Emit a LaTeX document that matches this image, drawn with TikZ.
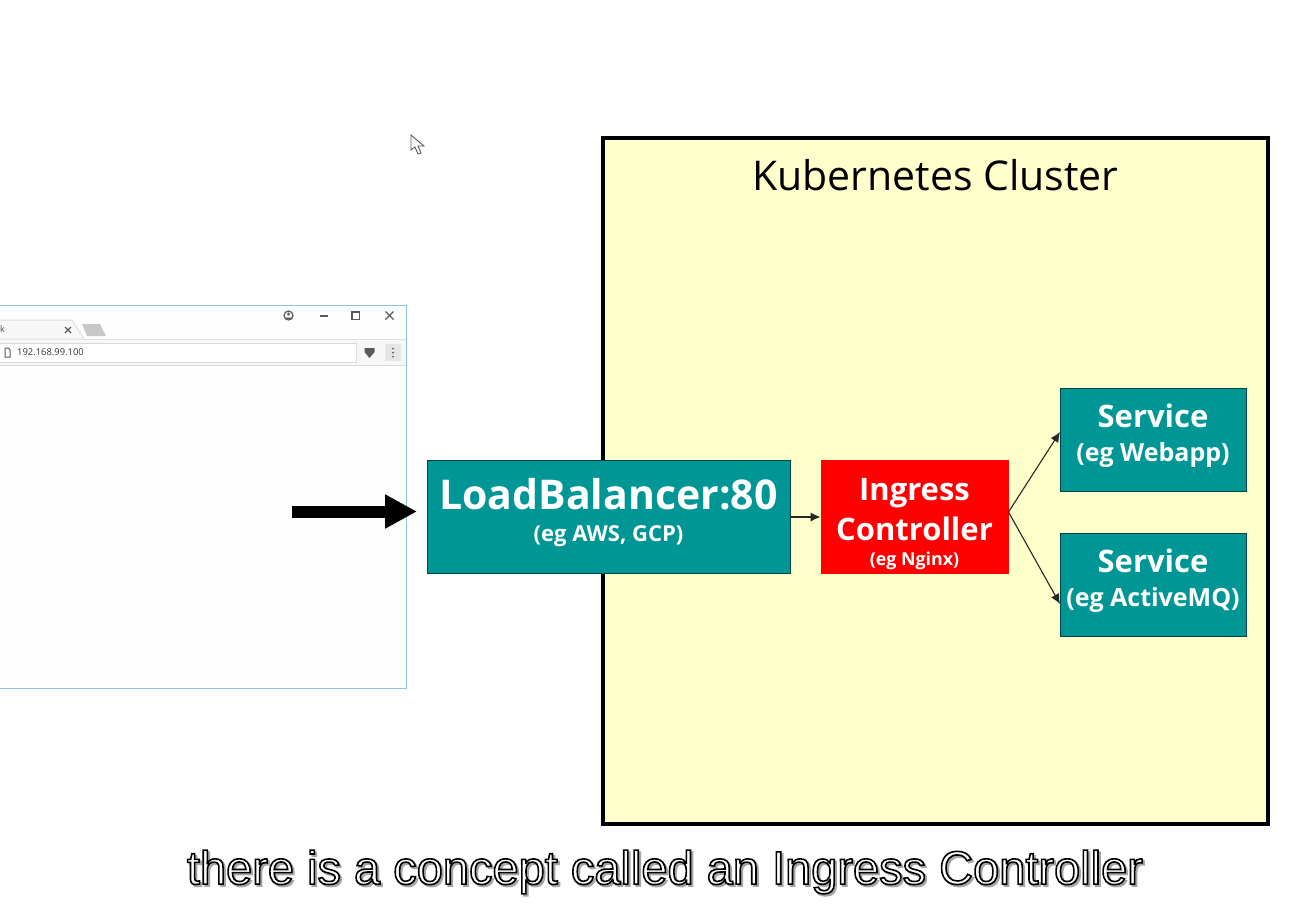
\documentclass[tikz,border=0pt]{standalone}
\usepackage{fontspec}
\setmainfont{Open Sans}
\newfontfamily\captionfont{Liberation Sans}
\usetikzlibrary{arrows.meta}

\definecolor{tealbox}{RGB}{0,150,150}
\definecolor{clusterbg}{RGB}{255,255,204}
\definecolor{windowline}{RGB}{135,195,230}
\definecolor{chromegrey}{RGB}{247,247,247}
\definecolor{iconcolor}{RGB}{90,90,90}

\newcommand{\captiontext}{there is a concept called an Ingress Controller}

\tikzset{
  boxnode/.style={draw=tealbox!45!black, line width=0.8pt, fill=tealbox, text=white, align=center, inner sep=0pt, font=\bfseries},
  thinarrow/.style={-{Latex[length=10pt,width=9pt]}, line width=1.1pt, draw=black!85},
  icon/.style={draw=iconcolor, line width=1pt},
}

\begin{document}
\begin{tikzpicture}[x=1pt,y=-1pt]

  \useasboundingbox (0,0) rectangle (1307,905);

  % Browser window
  \fill [white!99.5!black, draw=windowline, line width=1pt] (-10,305.5) rectangle (406.5,688);
  \fill [chromegrey] (-10,339) rectangle (406,365);
  \draw [black!15, line width=1pt] (-10,365) -- (406,365);
  \draw [black!13, fill=chromegrey, line width=1pt] (-10,320) -- (72,320) -- (84,339) -- (-10,339);
  \draw [black!13, line width=1pt] (84,339) -- (406,339);
  \fill [black!22] (82,324) -- (100,324) -- (106,336) -- (87,336) -- cycle;
  \draw [black!15, fill=white, line width=1pt] (-10,343) rectangle (356,362);
  \node (tabtext) at (2.5,329.5) {\fontsize{9}{9}\selectfont\color{black!70}k};
  \node (urltext) [anchor=west, inner sep=0pt] at (17,352.5) {\fontsize{9.4}{9.4}\selectfont\color{black!80}192.168.99.100};

  % Window icons
  \draw [icon] (5,348) -- (8.5,348) -- (10,350) -- (10,357) -- (5,357) -- cycle;
  \draw [icon, line width=1.2pt] (65,327) -- (71,333) (71,327) -- (65,333);
  \draw [icon, line width=1.2pt] (288.5,315.5) circle (4.5pt);
  \fill [iconcolor] (288.5,314) circle (1.7pt) (285,317.5) rectangle (292,319);
  \draw [icon, line width=1.2pt] (320,316) -- (328,316);
  \draw [icon, line width=1.2pt] (352,312) rectangle (359.5,319.5);
  \draw [icon, line width=1.2pt] (385.5,311.5) -- (393.5,319.5) (393.5,311.5) -- (385.5,319.5);
  \fill [iconcolor] (364.5,348) -- (374.5,348) -- (374.5,352) -- (369.5,358) -- (364.5,352) -- cycle;
  \fill [black!10] (385,344) rectangle (401,361);
  \fill [iconcolor] (393,348.5) circle (1pt) (393,352.5) circle (1pt) (393,356.5) circle (1pt);

  % Mouse pointer
  \draw [black!65, fill=white, line width=0.9pt] (411,135) -- (411,150) -- (415,147) -- (418,154) -- (421,153) -- (418,146) -- (424,146) -- cycle;

  % Cluster
  \node (cluster) [draw=black, line width=4pt, fill=clusterbg, minimum width=665pt, minimum height=686pt, inner sep=0pt, outer sep=0pt] at (935.5,481) {};
  \node (clustertitle) at (935.5,175) {\fontsize{41}{41}\selectfont Kubernetes Cluster};

  % Boxes
  \node (lb) [boxnode, minimum width=363pt, minimum height=113pt] at (608.5,516.5) {\fontsize{41}{41}\selectfont LoadBalancer:80\\[14pt]\fontsize{22}{22}\selectfont (eg AWS, GCP)\\[1pt]};
  \node (ingress) [boxnode, draw=red, fill=red, minimum width=187pt, minimum height=113pt] at (914.5,516.5) {\fontsize{31}{31}\selectfont Ingress\\[8pt]\fontsize{31}{31}\selectfont Controller\\[11pt]\fontsize{17.8}{17.8}\selectfont (eg Nginx)\\[-23pt]};
  \node (webapp) [boxnode, minimum width=186pt, minimum height=103pt] at (1153,439.5) {\fontsize{31}{31}\selectfont Service\\[14pt]\fontsize{25}{25}\selectfont (eg Webapp)\\[2pt]};
  \node (activemq) [boxnode, minimum width=186pt, minimum height=103pt] at (1153,584.5) {\fontsize{31}{31}\selectfont Service\\[14pt]\fontsize{25}{25}\selectfont (eg ActiveMQ)\\[2pt]};

  % Arrows
  \coordinate (entry) at (292,511.5);
  \coordinate (lbtip) at (417,511.5);
  \coordinate (webin) at (1060,432);
  \coordinate (mqin) at (1060,604);
  \coordinate (ingressout) at (1008.5,512);

  \draw [-{Triangle[length=32pt,width=32pt]}, line width=12pt, black] (entry) -- (lbtip);
  \draw [thinarrow] (lb.east |- 0,517) -- (ingress.west |- 0,517);
  \draw [thinarrow] (ingressout) -- (webin);
  \draw [thinarrow] (ingressout) -- (mqin);

  % Caption
  \node (captionshadow) at (667,874) {\captionfont\fontsize{47}{47}\selectfont\special{pdf:code 2 Tr 1.6 w 0.65 0.65 0.65 RG 0.65 0.65 0.65 rg}\captiontext\special{pdf:code 0 Tr}};
  \node (caption) at (665,872) {\captionfont\fontsize{47}{47}\selectfont\special{pdf:code 2 Tr 1.6 w 0 0 0 RG 1 1 1 rg}\captiontext\special{pdf:code 0 Tr}};

\end{tikzpicture}
\end{document}
